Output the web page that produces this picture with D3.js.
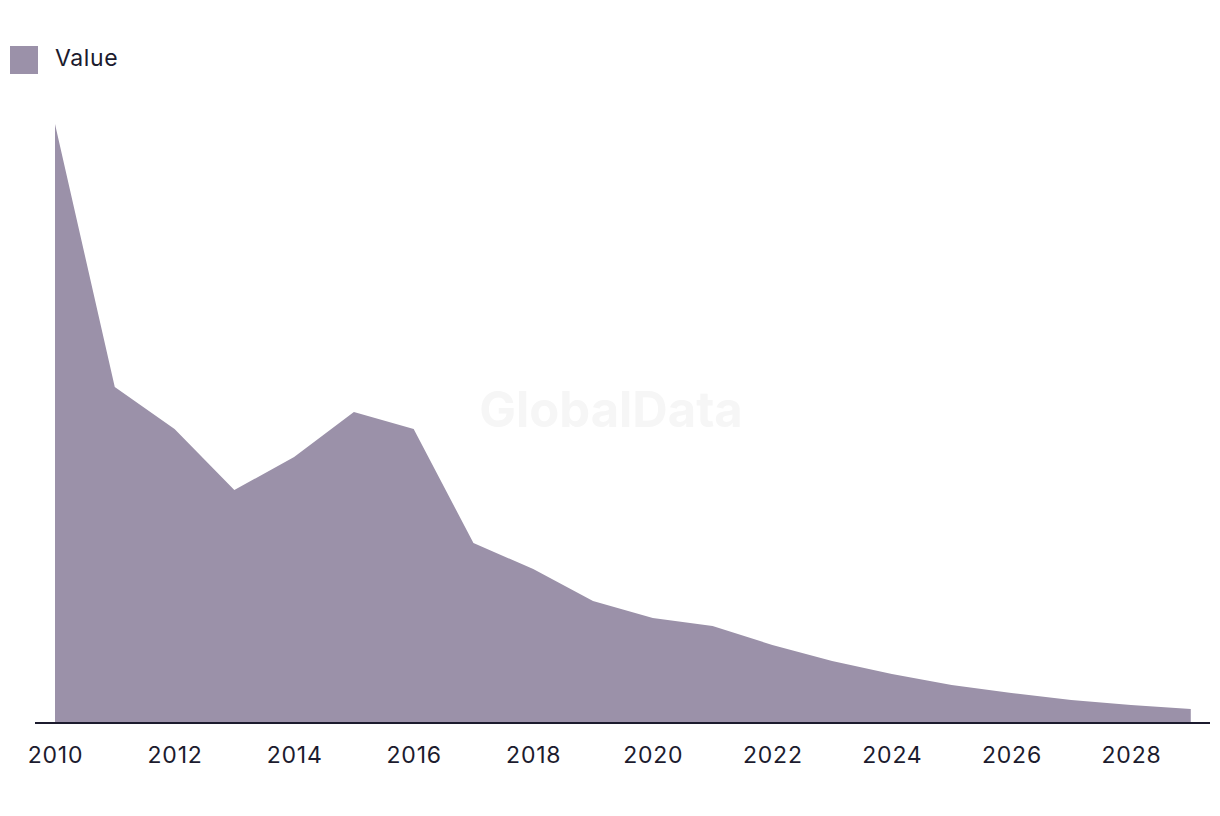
<!DOCTYPE html>
<html><head><meta charset="utf-8">
<script src="https://cdn.jsdelivr.net/npm/d3@7"></script>
<style>body{margin:0;background:#fff;}svg{display:block;font-family:Inter,"Noto Sans",sans-serif;}</style>
</head><body><svg id="c" width="1220" height="816"></svg>
<script>
const years = [2010,2011,2012,2013,2014,2015,2016,2017,2018,2019,2020,2021,2022,2023,2024,2025,2026,2027,2028,2029];
const values = [599,336,294,233,266,311,294,180,154,122,105,97,78,62,49,38,30,23,18,14];
const tickYears = [2010,2012,2014,2016,2018,2020,2022,2024,2026,2028];
const seriesName = "Value";

const svg = d3.select("#c");
const x = d3.scaleLinear().domain([2010,2028]).range([55,1131]);
const y = d3.scaleLinear().domain([0,599]).range([723,124]);

svg.append("text").attr("x",611).attr("y",427).attr("text-anchor","middle")
  .attr("font-size",49).attr("font-weight",700).attr("fill","#f6f6f6").text("GlobalData");

const data = years.map((d,i)=>({year:d,value:values[i]}));
svg.append("path").datum(data)
  .attr("d", d3.area().x(d=>x(d.year)).y0(y(0)).y1(d=>y(d.value)))
  .attr("fill","#9b91a9");

const ax = svg.append("g").attr("transform",`translate(0,${y(0)})`)
  .call(d3.axisBottom(x).tickValues(tickYears).tickFormat(d3.format("d")).tickSize(0).tickPadding(24));
ax.select(".domain").remove();
ax.selectAll("text").attr("font-size",23).attr("letter-spacing","0.8px").attr("fill","#1c1b2e").attr("font-family","Inter,'Noto Sans',sans-serif");
svg.append("line").attr("x1",35).attr("x2",1210).attr("y1",y(0)).attr("y2",y(0))
  .attr("stroke","#1c1b2e").attr("stroke-width",2);

svg.append("rect").attr("x",10).attr("y",46).attr("width",28).attr("height",28).attr("fill","#9b91a9");
svg.append("text").attr("x",55).attr("y",66).attr("font-size",23).attr("letter-spacing","0.6px").attr("fill","#1c1b2e").text(seriesName);
</script></body></html>
